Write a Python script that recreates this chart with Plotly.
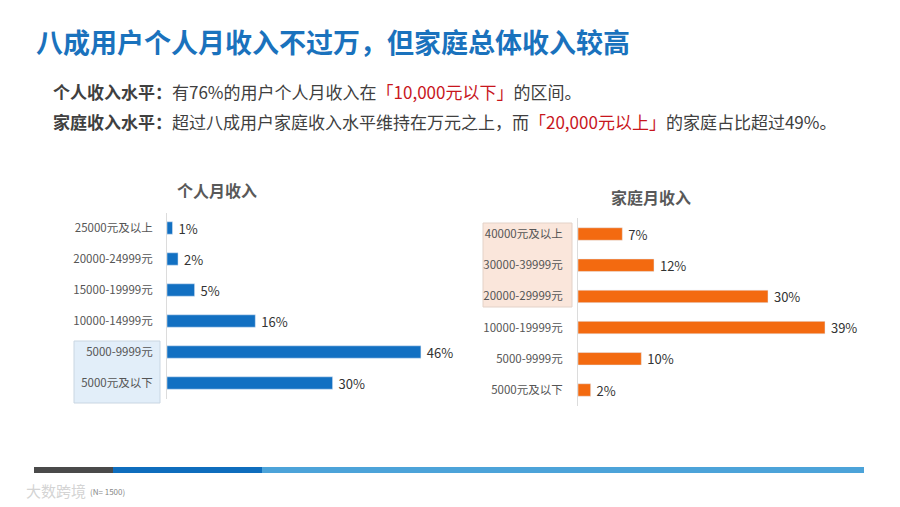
import plotly.graph_objects as go

# ---------------- data ----------------
personal_categories = ["25000元及以上", "20000-24999元", "15000-19999元",
                       "10000-14999元", "5000-9999元", "5000元及以下"]
personal_values = [1, 2, 5, 16, 46, 30]

family_categories = ["40000元及以上", "30000-39999元", "20000-29999元",
                     "10000-19999元", "5000-9999元", "5000元及以下"]
family_values = [7, 12, 30, 39, 10, 2]

title_text = "八成用户个人月收入不过万，但家庭总体收入较高"
left_title = "个人月收入"
right_title = "家庭月收入"

# ---------------- helpers ----------------
# the page body has an 8px margin, so the figure is sized to fit inside the window
OFF = 8
W, H = 900 - OFF, 507 - OFF
FONT = "Noto Sans CJK SC"


def px(x):
    return (x - OFF) / W


def py(y):
    return 1 - (y - OFF) / H


fig = go.Figure()

fig.add_trace(go.Bar(
    y=personal_categories, x=personal_values, orientation="h",
    marker=dict(color="#1270c2"),
    text=[f" {v}%" for v in personal_values], textposition="outside",
    textfont=dict(size=13, color="#333333", family=FONT),
    constraintext="none", cliponaxis=False,
    xaxis="x", yaxis="y", hoverinfo="skip",
))

fig.add_trace(go.Bar(
    y=family_categories, x=family_values, orientation="h",
    marker=dict(color="#f36a10"),
    text=[f" {v}%" for v in family_values], textposition="outside",
    textfont=dict(size=13, color="#333333", family=FONT),
    constraintext="none", cliponaxis=False,
    xaxis="x2", yaxis="y2", hoverinfo="skip",
))

axis_common = dict(showgrid=False, zeroline=False)

fig.update_layout(
    width=W, height=H,
    margin=dict(l=0, r=0, t=0, b=0),
    paper_bgcolor="white", plot_bgcolor="rgba(0,0,0,0)",
    showlegend=False, bargap=0.6,
    font=dict(family=FONT, color="#555555"),
    xaxis=dict(domain=[px(167), px(443)], range=[0, 50], visible=False, anchor="y", **axis_common),
    yaxis=dict(domain=[py(398.5), py(212.5)], anchor="x", type="category",
               categoryarray=personal_categories, categoryorder="array", autorange="reversed",
               showline=True, linecolor="#dcdcdc", linewidth=1, ticks="",
               ticklabelstandoff=11,
               tickfont=dict(size=11.5, color="#555555", family=FONT), **axis_common),
    xaxis2=dict(domain=[px(578), px(863)], range=[0, 45], visible=False, anchor="y2", **axis_common),
    yaxis2=dict(domain=[py(405.6), py(218.4)], anchor="x2", type="category",
                categoryarray=family_categories, categoryorder="array", autorange="reversed",
                showline=True, linecolor="#dcdcdc", linewidth=1, ticks="",
                ticklabelstandoff=12,
                tickfont=dict(size=11.5, color="#555555", family=FONT), **axis_common),
)

shapes = [
    # highlight boxes
    dict(type="rect", xref="paper", yref="paper", x0=px(74), x1=px(160), y0=py(403), y1=py(341),
         fillcolor="#e2eef9", line=dict(color="#c9d6e2", width=1), layer="below"),
    dict(type="rect", xref="paper", yref="paper", x0=px(483), x1=px(572), y0=py(307), y1=py(223),
         fillcolor="#fae6db", line=dict(color="#e3d2c8", width=1), layer="below"),
    # bottom decorative bar
    dict(type="rect", xref="paper", yref="paper", x0=px(34), x1=px(113), y0=py(473), y1=py(467),
         fillcolor="#4a4a4a", line=dict(width=0)),
    dict(type="rect", xref="paper", yref="paper", x0=px(113), x1=px(262), y0=py(473), y1=py(467),
         fillcolor="#0e6dbd", line=dict(width=0)),
    dict(type="rect", xref="paper", yref="paper", x0=px(262), x1=px(864), y0=py(473), y1=py(467),
         fillcolor="#4ca3d9", line=dict(width=0)),
]
fig.update_layout(shapes=shapes)

red = "#c8161d"
annotations = [
    dict(text=f"<b>{title_text}</b>", x=px(34), y=py(42), xanchor="left", yanchor="middle",
         font=dict(size=27, color="#1a72bd", family=FONT)),
    dict(text="<b>个人收入水平：</b>有76%的用户个人月收入在"
              f"<span style='color:{red}'>「10,000元以下」</span>的区间。",
         x=px(51), y=py(92), xanchor="left", yanchor="middle",
         font=dict(size=17, color="#404040", family=FONT)),
    dict(text="<b>家庭收入水平：</b>超过八成用户家庭收入水平维持在万元之上，而"
              f"<span style='color:{red}'>「20,000元以上」</span>的家庭占比超过49%。",
         x=px(51), y=py(121), xanchor="left", yanchor="middle",
         font=dict(size=17, color="#404040", family=FONT)),
    dict(text=f"<b>{left_title}</b>", x=px(217), y=py(190), xanchor="center", yanchor="middle",
         font=dict(size=16, color="#595959", family=FONT)),
    dict(text=f"<b>{right_title}</b>", x=px(651), y=py(197), xanchor="center", yanchor="middle",
         font=dict(size=16, color="#595959", family=FONT)),
    dict(text="大数跨境", x=px(24), y=py(490), xanchor="left", yanchor="middle",
         font=dict(size=15, color="rgba(200,200,200,0.8)", family=FONT)),
    dict(text="(N= 1500)", x=px(88), y=py(491), xanchor="left", yanchor="middle",
         font=dict(size=8, color="#888888", family=FONT)),
]
for a in annotations:
    a.update(xref="paper", yref="paper", showarrow=False)
fig.update_layout(annotations=annotations)

fig.write_html("out.html")
